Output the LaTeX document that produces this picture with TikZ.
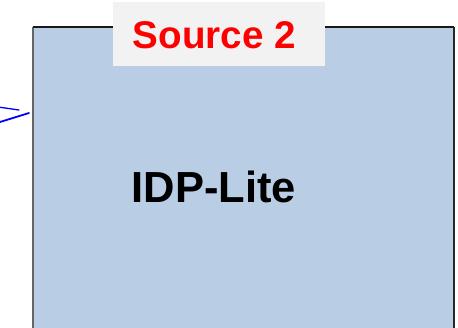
\documentclass[tikz,border=0pt]{standalone}
\usepackage{fontspec}
\setmainfont{Liberation Sans}
\definecolor{boxblue}{HTML}{B9CDE5}
\definecolor{labelgray}{HTML}{F2F2F2}
\begin{document}
\begin{tikzpicture}[x=1pt,y=1pt,
  labelbox/.style={fill=labelgray, draw=none, inner sep=0pt, minimum width=212pt, minimum height=64pt},
  bluestroke/.style={draw=blue, line cap=round}]
\useasboundingbox (0,0) rectangle (458,327);
% main box
\fill[boxblue] (33,-5) rectangle (454,300);
\draw[line width=2pt, color=black!60] (33,-5) -- (33,300);
\draw[line width=2pt, color=black!90] (33,300) -- (454,300);
\draw[line width=2pt, color=black!85] (454,300) -- (454,-5);
\node[font=\bfseries\fontsize{43.5}{48}\selectfont, anchor=base, inner sep=0pt] (main) at (214,124) {IDP-Lite};
% label
\node[labelbox] (lab) at (219,293) {};
\node[font=\bfseries\fontsize{38.6}{44}\selectfont, text=red, anchor=base, inner sep=0pt] (src) at (214.5,278) {Source 2};
% blue strokes at left
\coordinate (u0) at (0,219.7);
\coordinate (u1) at (19,217);
\coordinate (l0) at (0,205);
\coordinate (l1) at (29,214);
\draw[bluestroke, line width=1.3pt] (u0) -- (u1);
\draw[bluestroke, line width=1.8pt] (l0) -- (l1);
\end{tikzpicture}
\end{document}
